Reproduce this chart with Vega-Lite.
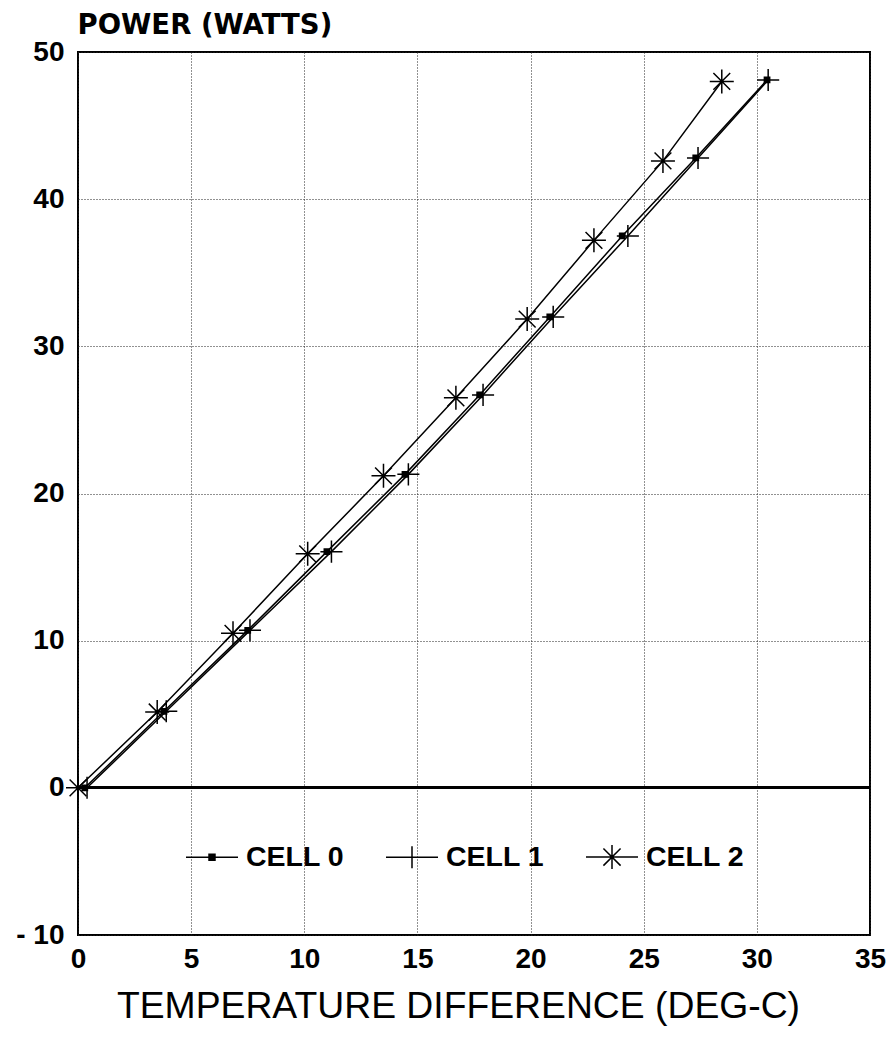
{
  "$schema": "https://vega.github.io/schema/vega-lite/v6.json",
  "width": 792,
  "height": 883,
  "autosize": "none",
  "padding": {"left": 78, "top": 52, "right": 23, "bottom": 109},
  "background": "white",
  "config": {
    "view": {"stroke": "black", "strokeWidth": 2},
    "axis": {
      "grid": true,
      "gridColor": "#222",
      "gridDash": [1, 2],
      "gridWidth": 1,
      "ticks": false,
      "domain": false,
      "labelFont": "Liberation Sans",
      "labelFontWeight": "bold",
      "labelFontSize": 28,
      "labelColor": "black"
    }
  },
  "data": {
    "values": [
      {"series": "CELL 0", "dt": 0.3, "power": 0},
      {"series": "CELL 0", "dt": 3.8, "power": 5.2},
      {"series": "CELL 0", "dt": 7.5, "power": 10.7},
      {"series": "CELL 0", "dt": 11.0, "power": 16.05},
      {"series": "CELL 0", "dt": 14.45, "power": 21.3},
      {"series": "CELL 0", "dt": 17.75, "power": 26.7},
      {"series": "CELL 0", "dt": 20.85, "power": 32.0},
      {"series": "CELL 0", "dt": 24.05, "power": 37.5},
      {"series": "CELL 0", "dt": 27.3, "power": 42.8},
      {"series": "CELL 0", "dt": 30.45, "power": 48.1},
      {"series": "CELL 1", "dt": 0.4, "power": 0},
      {"series": "CELL 1", "dt": 3.9, "power": 5.2},
      {"series": "CELL 1", "dt": 7.6, "power": 10.7},
      {"series": "CELL 1", "dt": 11.2, "power": 16.05},
      {"series": "CELL 1", "dt": 14.6, "power": 21.3},
      {"series": "CELL 1", "dt": 17.9, "power": 26.7},
      {"series": "CELL 1", "dt": 21.0, "power": 32.0},
      {"series": "CELL 1", "dt": 24.3, "power": 37.5},
      {"series": "CELL 1", "dt": 27.4, "power": 42.8},
      {"series": "CELL 1", "dt": 30.5, "power": 48.1},
      {"series": "CELL 2", "dt": 0.0, "power": 0},
      {"series": "CELL 2", "dt": 3.5, "power": 5.15},
      {"series": "CELL 2", "dt": 6.85, "power": 10.5},
      {"series": "CELL 2", "dt": 10.15, "power": 15.9},
      {"series": "CELL 2", "dt": 13.5, "power": 21.2},
      {"series": "CELL 2", "dt": 16.7, "power": 26.5},
      {"series": "CELL 2", "dt": 19.85, "power": 31.85},
      {"series": "CELL 2", "dt": 22.8, "power": 37.2},
      {"series": "CELL 2", "dt": 25.85, "power": 42.6},
      {"series": "CELL 2", "dt": 28.45, "power": 48.0}
    ]
  },
  "encoding": {
    "x": {
      "field": "dt",
      "type": "quantitative",
      "scale": {"domain": [0, 35], "nice": false, "zero": false},
      "axis": {
        "values": [0, 5, 10, 15, 20, 25, 30, 35],
        "labelPadding": 10,
        "labelFlush": false,
        "title": "TEMPERATURE DIFFERENCE (DEG-C)",
        "titleFont": "Liberation Sans",
        "titleFontWeight": "normal",
        "titleFontSize": 37.3,
        "titleColor": "black",
        "titleAnchor": "start",
        "titleAlign": "center",
        "titleBaseline": "alphabetic",
        "titleX": 380,
        "titleY": 82
      }
    },
    "y": {
      "field": "power",
      "type": "quantitative",
      "scale": {"domain": [-10, 50], "nice": false, "zero": false},
      "axis": {
        "values": [-10, 0, 10, 20, 30, 40, 50],
        "labelPadding": 14,
        "labelExpr": "datum.value < 0 ? '- ' + abs(datum.value) : datum.label",
        "title": "POWER (WATTS)",
        "titleFont": "DejaVu Sans",
        "titleFontWeight": "bold",
        "titleFontSize": 27.5,
        "titleColor": "black",
        "titleAngle": 0,
        "titleAlign": "left",
        "titleBaseline": "alphabetic",
        "titleX": -1,
        "titleY": -19
      }
    }
  },
  "resolve": {"scale": {"shape": "independent"}, "legend": {"shape": "independent"}},
  "layer": [
    {
      "mark": {"type": "rule", "color": "black", "strokeWidth": 2},
      "encoding": {"y": {"datum": 0}, "x": {"datum": 0}, "x2": {"datum": 35}}
    },
    {
      "mark": {"type": "line", "color": "black", "strokeWidth": 1.5},
      "encoding": {"detail": {"field": "series", "type": "nominal"}}
    },
    {
      "mark": {"type": "point", "filled": true, "fill": "black", "stroke": "black", "strokeWidth": 1.5, "size": 576, "opacity": 1},
      "encoding": {
        "shape": {
          "field": "series",
          "type": "nominal",
          "scale": {
            "domain": ["CELL 0", "CELL 1", "CELL 2"],
            "range": [
              "M-0.22,-0.22H0.22V0.22H-0.22Z",
              "M-0.92,0H0.92M0,-0.92V0.92",
              "M-1,0H1M0,-1V1M-0.7,-0.7L0.7,0.7M-0.7,0.7L0.7,-0.7"
            ]
          },
          "legend": null
        }
      }
    },
    {
      "mark": {"type": "point", "filled": true, "fill": "black", "stroke": "black", "strokeWidth": 1.5, "size": 0, "opacity": 1},
      "encoding": {
        "shape": {
          "field": "series",
          "type": "nominal",
          "scale": {
            "domain": ["CELL 0", "CELL 1", "CELL 2"],
            "range": [
              "M-1,0H1M-0.115,-0.115H0.115V0.115H-0.115Z",
              "M-1,0H1M0,-0.42V0.42",
              "M-1,0H1M0,-0.46V0.46M-0.33,-0.33L0.33,0.33M-0.33,0.33L0.33,-0.33"
            ]
          },
          "legend": {
            "title": null,
            "orient": "none",
            "direction": "horizontal",
            "legendX": 107,
            "legendY": 778,
            "padding": 0,
            "symbolSize": 2704,
            "symbolStrokeWidth": 1.5,
            "symbolOpacity": 1,
            "labelOffset": 7,
            "columnPadding": 38,
            "labelFont": "Liberation Sans",
            "labelFontWeight": "bold",
            "labelFontSize": 28.5,
            "labelColor": "black"
          }
        }
      }
    }
  ]
}
